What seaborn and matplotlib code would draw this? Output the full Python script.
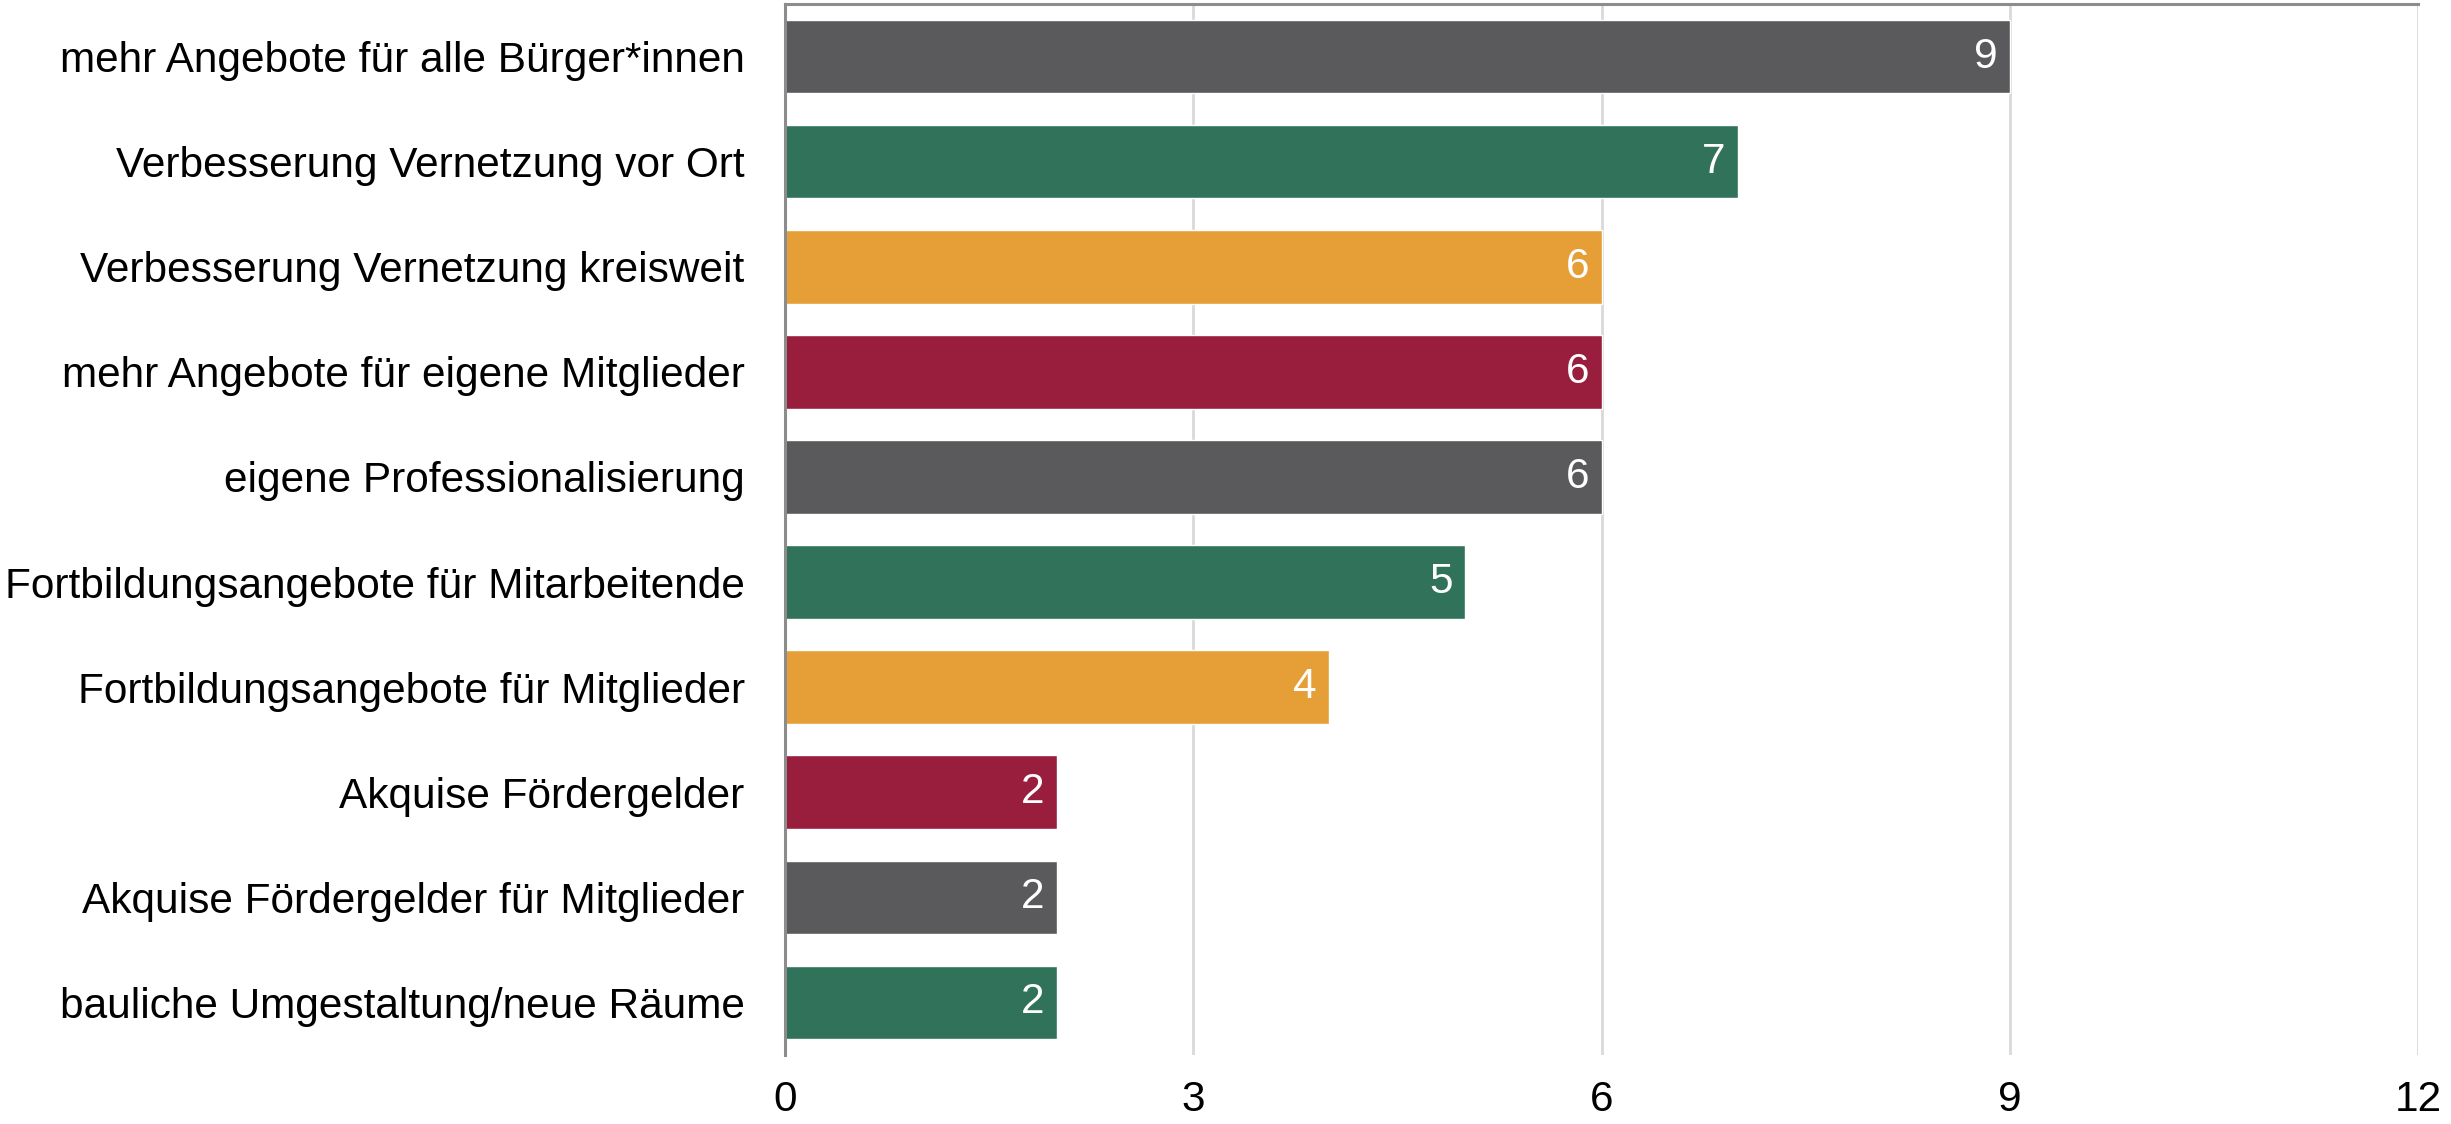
import matplotlib
matplotlib.use("Agg")
import matplotlib.pyplot as plt
import seaborn as sns
import pandas as pd

categories = [
    "mehr Angebote für alle Bürger*innen",
    "Verbesserung Vernetzung vor Ort",
    "Verbesserung Vernetzung kreisweit",
    "mehr Angebote für eigene Mitglieder",
    "eigene Professionalisierung",
    "Fortbildungsangebote für Mitarbeitende",
    "Fortbildungsangebote für Mitglieder",
    "Akquise Fördergelder",
    "Akquise Fördergelder für Mitglieder",
    "bauliche Umgestaltung/neue Räume",
]
values = [9, 7, 6, 6, 6, 5, 4, 2, 2, 2]
bar_colors = ["#5A5A5C", "#31735A", "#E69F37", "#991D3D", "#5A5A5C",
              "#31735A", "#E69F37", "#991D3D", "#5A5A5C", "#31735A"]
x_ticks = [0, 3, 6, 9, 12]

sns.set_theme(style="white")
plt.rcParams["font.family"] = ["Liberation Sans", "DejaVu Sans"]

df = pd.DataFrame({"cat": categories, "val": values})

fig = plt.figure(figsize=(24.51, 11.24), dpi=100)
ax = fig.add_axes([785 / 2451, 1 - 1055 / 1124, (2418 - 785) / 2451, (1055 - 4) / 1124])

sns.barplot(data=df, x="val", y="cat", hue="cat", palette=bar_colors,
            legend=False, orient="h", width=0.7, ax=ax, saturation=1)

ax.set_xlim(0, 12)
ax.set_xticks(x_ticks)
ax.set_xlabel("")
ax.set_ylabel("")
ax.xaxis.grid(True, color="#D9D9D9", linewidth=2)
ax.set_axisbelow(True)

for side in ["bottom", "right"]:
    ax.spines[side].set_visible(False)
ax.spines["left"].set_color("#8C8C8C")
ax.spines["left"].set_linewidth(2.2)
ax.spines["top"].set_color("#8C8C8C")
ax.spines["top"].set_linewidth(2.2)

ax.tick_params(axis="y", length=0, pad=29, labelsize=30.5, labelcolor="black")
ax.tick_params(axis="x", length=0, pad=18, labelsize=30.5, labelcolor="black")

for cont in ax.containers:
    texts = ax.bar_label(cont, padding=-9, color="white", fontsize=30.5)
    for t in texts:
        t.set_ha("right")

fig.savefig("out.png", dpi=100, facecolor="white")
